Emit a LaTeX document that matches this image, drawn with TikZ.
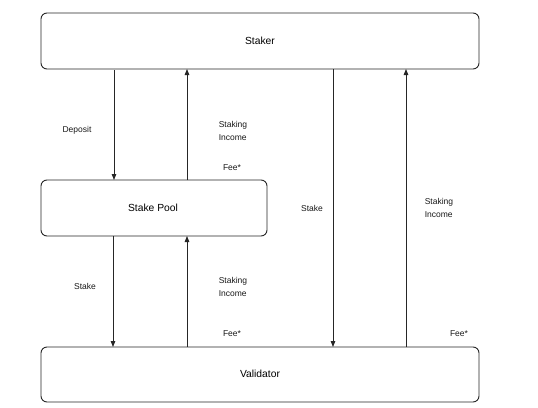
\documentclass[tikz,border=0pt]{standalone}
\usepackage{fontspec}
\setmainfont{Liberation Sans}
\usetikzlibrary{arrows.meta}
\begin{document}
\begin{tikzpicture}[x=1pt,y=-1pt,
  box/.style={draw=black!85,line width=0.9pt,rounded corners=6pt,inner sep=0pt},
  flow/.style={draw=black!85,line width=0.8pt,-{Triangle[length=6pt,width=4.5pt]}},
  lbl/.style={font=\fontsize{8.5}{13.5}\selectfont,align=left,text=black!90},
  ttl/.style={font=\fontsize{10.3}{12}\selectfont}]
\useasboundingbox (0,0) rectangle (538,407);
\fill[white] (0,0) rectangle (538,407);
\draw[box] (41,13) rectangle (479,69);
\node[ttl] (staker) at (260,41) {Staker};
\draw[box] (41,180) rectangle (267,236);
\node[ttl] (pool) at (153,208) {Stake Pool};
\draw[box] (41,347) rectangle (479,402);
\node[ttl] (val) at (260,374) {Validator};
\coordinate (s1) at (114,70);
\coordinate (p1) at (114,180);
\coordinate (p2) at (187,180);
\coordinate (s2) at (187,69);
\coordinate (s3) at (333,69);
\coordinate (v3) at (333,347);
\coordinate (v4) at (406,347);
\coordinate (s4) at (406,69);
\coordinate (p5) at (113,236);
\coordinate (v5) at (113,347);
\coordinate (v6) at (187,347);
\coordinate (p6) at (187,236);
\draw[flow] (s1) -- (p1);
\draw[flow] (p2) -- (s2);
\draw[flow] (s3) -- (v3);
\draw[flow] (v4) -- (s4);
\draw[flow] (p5) -- (v5);
\draw[flow] (v6) -- (p6);
\node[lbl] (l1) at (77,130) {Deposit};
\node[lbl] (l2) at (233,131) {Staking\\Income};
\node[lbl] (l3) at (232,168) {Fee*};
\node[lbl] (l4) at (312,208) {Stake};
\node[lbl] (l5) at (439,208) {Staking\\Income};
\node[lbl] (l6) at (85,286) {Stake};
\node[lbl] (l7) at (233,287) {Staking\\Income};
\node[lbl] (l8) at (232,334) {Fee*};
\node[lbl] (l9) at (459,334) {Fee*};
\end{tikzpicture}
\end{document}
